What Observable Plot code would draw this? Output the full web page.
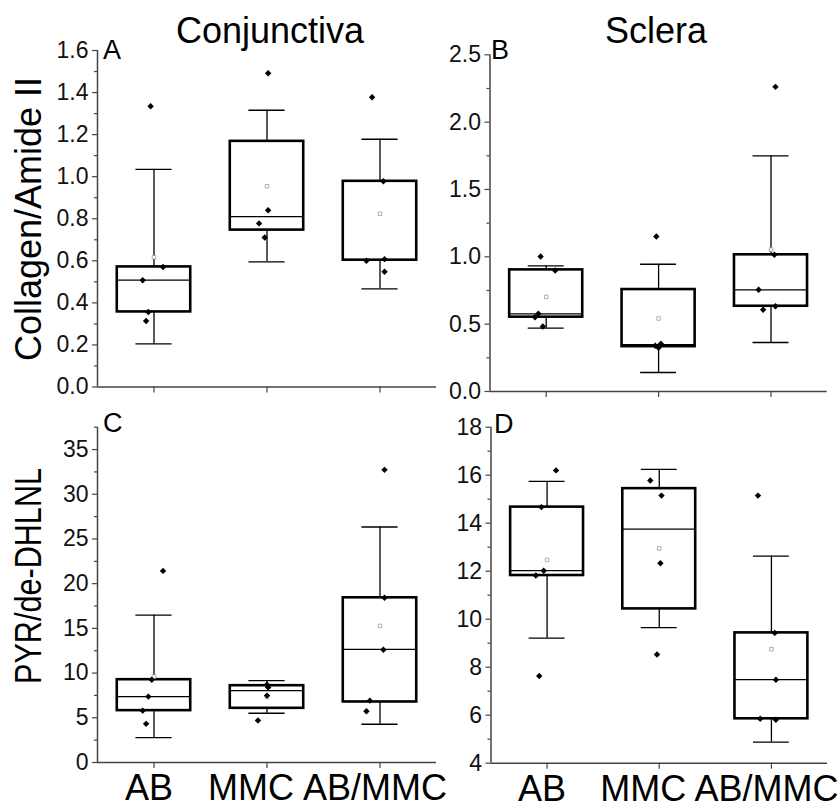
<!DOCTYPE html>
<html>
<head>
<meta charset="utf-8">
<script src="https://cdn.jsdelivr.net/npm/d3@7"></script>
<script src="https://cdn.jsdelivr.net/npm/@observablehq/plot@0.6"></script>
<style>
  html, body { margin: 0; padding: 0; background: #fff; }
  #wrap { position: relative; width: 840px; height: 809px; background: #fff; overflow: hidden; }
  #wrap > svg { position: absolute; left: 0; top: 0; }
</style>
</head>
<body>
<div id="wrap"></div>
<script>
// ---------------- DATA ----------------
const groups = ["AB", "MMC", "AB/MMC"];
const columnTitles = ["Conjunctiva", "Sclera"];
const rowTitles = ["Collagen/Amide II", "PYR/de-DHLNL"];
const panelLetters = ["A", "B", "C", "D"];

// Panel A – Conjunctiva, Collagen/Amide II
const A_ticks = [0, 0.2, 0.4, 0.6, 0.8, 1.0, 1.2, 1.4, 1.6];
const A_minor = [0.1, 0.3, 0.5, 0.7, 0.9, 1.1, 1.3, 1.5];
const A_q1 = [0.357, 0.746, 0.603];
const A_median = [0.508, 0.810, 0.606];
const A_q3 = [0.571, 1.168, 0.978];
const A_whiskerLow = [0.205, 0.595, 0.467];
const A_whiskerHigh = [1.035, 1.316, 1.178];
const A_mean = [0.617, 0.955, 0.824];
const A_points = [[1.335, 0.571, 0.508, 0.357, 0.314], [1.492, 0.840, 0.778, 0.711], [1.378, 0.978, 0.600, 0.608, 0.548]];
const A_jitter = [[-0.03, 0.08, -0.10, -0.05, -0.07], [0.01, 0.01, -0.07, -0.02], [-0.07, 0.03, -0.12, 0.04, 0.04]];

// Panel B – Sclera, Collagen/Amide II
const B_ticks = [0, 0.5, 1.0, 1.5, 2.0, 2.5];
const B_minor = [0.25, 0.75, 1.25, 1.75, 2.25];
const B_q1 = [0.552, 0.333, 0.633];
const B_median = [0.577, 0.347, 0.755];
const B_q3 = [0.903, 0.757, 1.015];
const B_whiskerLow = [0.470, 0.141, 0.364];
const B_whiskerHigh = [0.933, 0.945, 1.750];
const B_mean = [0.702, 0.542, 1.054];
const B_points = [[1.002, 0.898, 0.577, 0.552, 0.483], [1.151, 0.355, 0.340, 0.325], [2.262, 1.015, 0.755, 0.607, 0.633]];
const B_jitter = [[-0.05, 0.08, -0.07, -0.10, -0.03], [-0.02, 0.02, -0.03, 0.00], [0.04, 0.03, -0.11, -0.07, 0.04]];

// Panel C – Conjunctiva, PYR/de-DHLNL
const C_ticks = [0, 5, 10, 15, 20, 25, 30, 35];
const C_minor = [2.5, 7.5, 12.5, 17.5, 22.5, 27.5, 32.5, 37.5];
const C_q1 = [5.80, 6.06, 6.77];
const C_median = [7.37, 8.04, 12.65];
const C_q3 = [9.26, 8.59, 18.42];
const C_whiskerLow = [2.79, 5.51, 4.28];
const C_whiskerHigh = [16.48, 9.15, 26.34];
const C_mean = [9.61, 7.32, 15.27];
const C_points = [[21.43, 9.26, 7.37, 5.80, 4.32], [8.70, 8.40, 7.48, 4.69], [32.73, 18.42, 12.60, 6.92, 5.73]];
const C_jitter = [[0.08, -0.02, -0.05, -0.10, -0.07], [0.00, 0.01, 0.00, -0.08], [0.04, 0.04, 0.03, -0.09, -0.12]];

// Panel D – Sclera, PYR/de-DHLNL
const D_ticks = [4, 6, 8, 10, 12, 14, 16, 18];
const D_minor = [5, 7, 9, 11, 13, 15, 17];
const D_q1 = [11.82, 10.43, 5.85];
const D_median = [12.02, 13.75, 7.48];
const D_q3 = [14.67, 15.44, 9.43];
const D_whiskerLow = [9.21, 9.65, 4.88];
const D_whiskerHigh = [15.74, 16.24, 12.63];
const D_mean = [12.47, 12.95, 8.75];
const D_points = [[16.20, 14.67, 12.02, 11.82, 7.63], [15.78, 15.15, 12.33, 8.53], [15.15, 9.43, 7.48, 5.85, 5.81]];
const D_jitter = [[0.08, -0.05, -0.03, -0.10, -0.07], [-0.08, 0.02, 0.01, -0.02], [-0.12, 0.03, 0.04, -0.10, 0.04]];

// ---------------- DRAWING ----------------
const W = 840, H = 809;
const FONT = '"Liberation Sans", Arial, Helvetica, sans-serif';
const BOX_HALF = 0.325, CAP_HALF = 0.16;
const AXIS_COLOR = "#444";
const LABEL_SHIFT = {"AB": -5, "MMC": -16, "AB/MMC": -5};

function panel(cfg) {
  const idx = [0, 1, 2];
  const pts = cfg.points.flatMap((arr, g) => arr.map((v, k) => ({g, v, j: cfg.jitter[g][k]})));
  const [fx0, fx1, fy0, fy1] = cfg.frame;
  const svg = Plot.plot({
    width: W, height: H,
    marginLeft: fx0, marginRight: W - fx1, marginTop: fy0, marginBottom: H - fy1,
    x: {domain: [-0.5, 2.5], axis: null},
    y: {domain: cfg.domain, axis: null},
    style: {background: "transparent", fontFamily: FONT, overflow: "visible"},
    marks: [
      Plot.axisY({ticks: cfg.minor, tickSize: 3, fill: "none", stroke: AXIS_COLOR, strokeWidth: 1.2, label: null}),
      Plot.axisY({ticks: cfg.ticks, tickSize: 5, tickPadding: 4, tickFormat: cfg.fmt, fontSize: 23,
                  fill: "#111", stroke: AXIS_COLOR, strokeWidth: 1.2, label: null}),
      Plot.axisX({ticks: idx, tickSize: 6, tickPadding: 6, tickFormat: i => groups[i], fontSize: 36,
                  fill: cfg.xLabels ? "#000" : "none", stroke: AXIS_COLOR, strokeWidth: 1.2, label: null}),
      Plot.ruleX([-0.5], {stroke: AXIS_COLOR, strokeWidth: 1.5}),
      Plot.ruleY([cfg.domain[0]], {stroke: AXIS_COLOR, strokeWidth: 1.5}),
      // whiskers (mean ± SD)
      Plot.ruleX(idx, {x: i => i, y1: i => cfg.q3[i], y2: i => cfg.whiskerHigh[i], stroke: "#000", strokeWidth: 1.3}),
      Plot.ruleX(idx, {x: i => i, y1: i => cfg.whiskerLow[i], y2: i => cfg.q1[i], stroke: "#000", strokeWidth: 1.3}),
      Plot.ruleY(idx, {x1: i => i - CAP_HALF, x2: i => i + CAP_HALF, y: i => cfg.whiskerHigh[i], stroke: "#000", strokeWidth: 1.3}),
      Plot.ruleY(idx, {x1: i => i - CAP_HALF, x2: i => i + CAP_HALF, y: i => cfg.whiskerLow[i], stroke: "#000", strokeWidth: 1.3}),
      // boxes
      Plot.rect(idx, {x1: i => i - BOX_HALF, x2: i => i + BOX_HALF, y1: i => cfg.q1[i], y2: i => cfg.q3[i],
                      fill: "none", stroke: "#000", strokeWidth: 2.6}),
      Plot.ruleY(idx, {x1: i => i - BOX_HALF, x2: i => i + BOX_HALF, y: i => cfg.median[i], stroke: "#000", strokeWidth: 1.3}),
      // mean
      Plot.dot(idx, {x: i => i, y: i => cfg.mean[i], symbol: "square", r: 2, fill: "#fff", stroke: "#9a9a9a", strokeWidth: 0.8}),
      // data points
      Plot.dot(pts, {x: d => d.g + d.j, y: "v", symbol: "diamond2", r: 2.9, fill: "#000", stroke: "none"})
    ]
  });
  // nudge the category labels the way the reference places them
  if (cfg.xLabels) {
    d3.select(svg).selectAll("text").each(function() {
      const t = this.textContent;
      if (t in LABEL_SHIFT) d3.select(this).attr("dx", LABEL_SHIFT[t]);
    });
  }
  return svg;
}

const wrap = document.getElementById("wrap");
const f1 = d3.format(".1f"), f0 = d3.format("d");

wrap.appendChild(panel({frame: [97, 436, 50, 386.5], domain: [0, 1.6], ticks: A_ticks, minor: A_minor, fmt: f1,
  q1: A_q1, median: A_median, q3: A_q3, whiskerLow: A_whiskerLow, whiskerHigh: A_whiskerHigh, mean: A_mean,
  points: A_points, jitter: A_jitter, xLabels: false}));
wrap.appendChild(panel({frame: [489.5, 826.7, 54.3, 391], domain: [0, 2.5], ticks: B_ticks, minor: B_minor, fmt: f1,
  q1: B_q1, median: B_median, q3: B_q3, whiskerLow: B_whiskerLow, whiskerHigh: B_whiskerHigh, mean: B_mean,
  points: B_points, jitter: B_jitter, xLabels: false}));
wrap.appendChild(panel({frame: [97, 436, 426.7, 762], domain: [0, 37.5], ticks: C_ticks, minor: C_minor, fmt: f0,
  q1: C_q1, median: C_median, q3: C_q3, whiskerLow: C_whiskerLow, whiskerHigh: C_whiskerHigh, mean: C_mean,
  points: C_points, jitter: C_jitter, xLabels: true}));
wrap.appendChild(panel({frame: [490.5, 827, 426.7, 762.7], domain: [4, 18], ticks: D_ticks, minor: D_minor, fmt: f0,
  q1: D_q1, median: D_median, q3: D_q3, whiskerLow: D_whiskerLow, whiskerHigh: D_whiskerHigh, mean: D_mean,
  points: D_points, jitter: D_jitter, xLabels: true}));

// titles overlay
const ov = d3.select(wrap).append("svg").attr("width", W).attr("height", H)
  .style("font-family", FONT).style("pointer-events", "none");
ov.append("text").attr("x", 270).attr("y", 42.5).attr("text-anchor", "middle").attr("font-size", 36).text(columnTitles[0]);
ov.append("text").attr("x", 656).attr("y", 42.5).attr("text-anchor", "middle").attr("font-size", 36).text(columnTitles[1]);
ov.append("text").attr("transform", "translate(41,219) rotate(-90)").attr("text-anchor", "middle").attr("font-size", 36).text(rowTitles[0]);
ov.append("text").attr("transform", "translate(41,576) rotate(-90)").attr("text-anchor", "middle").attr("font-size", 36)
  .attr("textLength", 216).attr("lengthAdjust", "spacingAndGlyphs").text(rowTitles[1]);
const letterPos = [[103, 59], [491, 58.5], [103, 432], [494, 433]];
panelLetters.forEach((t, k) => ov.append("text").attr("x", letterPos[k][0]).attr("y", letterPos[k][1]).attr("font-size", 27).text(t));
</script>
</body>
</html>
